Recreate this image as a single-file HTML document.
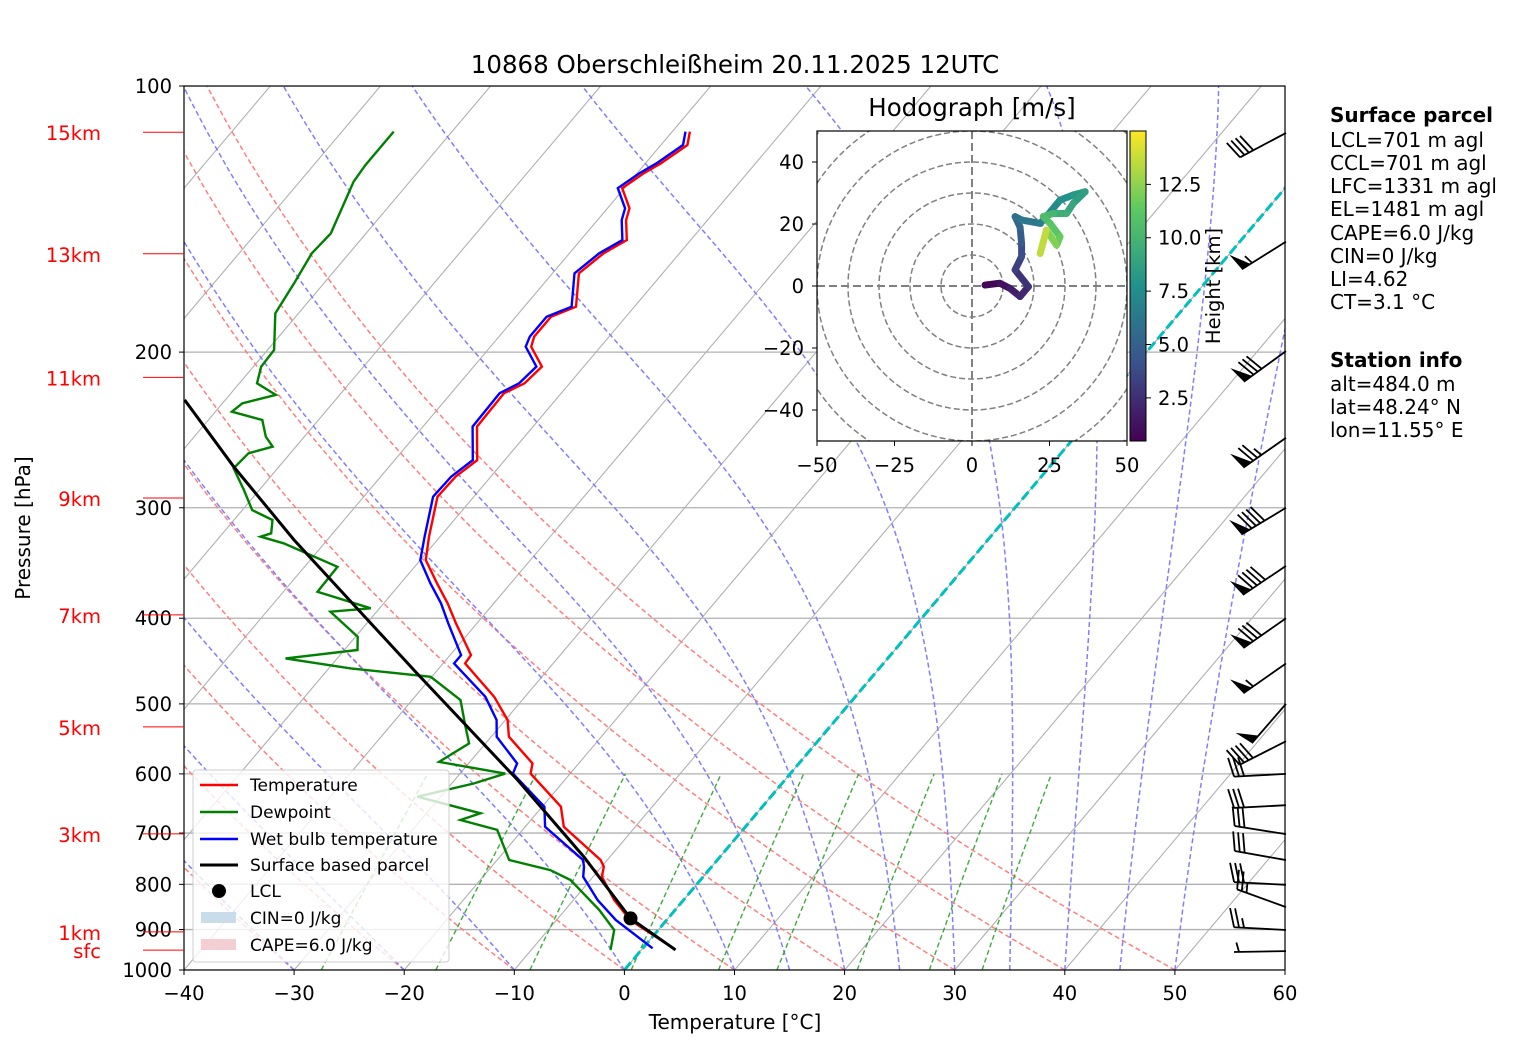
<!DOCTYPE html>
<html><head><meta charset="utf-8"><style>
body{margin:0;background:#fff;}
svg{display:block;font-family:"DejaVu Sans","Liberation Sans",sans-serif;}
</style></head><body>
<svg id="chart" width="1517" height="1056" viewBox="0 0 1517 1056" xmlns="http://www.w3.org/2000/svg">
<defs>
<clipPath id="plotclip"><rect x="184" y="86" width="1101" height="884"/></clipPath>
<clipPath id="hodoclip"><rect x="817" y="131" width="310" height="310"/></clipPath>
<linearGradient id="viridis" x1="0" y1="1" x2="0" y2="0">
<stop offset="0" stop-color="#440154"/><stop offset="0.25" stop-color="#3b528b"/><stop offset="0.5" stop-color="#21918c"/><stop offset="0.75" stop-color="#5ec962"/><stop offset="1" stop-color="#fde725"/>
</linearGradient>
</defs>
<rect x="0" y="0" width="1517" height="1056" fill="#fff"/>
<g id="grid" clip-path="url(#plotclip)"></g>
<g id="series" clip-path="url(#plotclip)"></g>
<g id="axes"></g>
<text x="735" y="73" font-size="24.5" text-anchor="middle">10868 Oberschleißheim 20.11.2025 12UTC</text>
<text x="735" y="1029" font-size="20" text-anchor="middle">Temperature [°C]</text>
<text x="30" y="528" font-size="20" text-anchor="middle" transform="rotate(-90 30 528)">Pressure [hPa]</text>
<g id="legend">
<rect x="193" y="770" width="256" height="192" rx="3" fill="#fff" fill-opacity="0.8" stroke="#ccc"/>
<line x1="200" y1="785" x2="238" y2="785" stroke="red" stroke-width="2.5"/>
<text x="250" y="791" font-size="17">Temperature</text>
<line x1="200" y1="812" x2="238" y2="812" stroke="green" stroke-width="2.5"/>
<text x="250" y="818" font-size="17">Dewpoint</text>
<line x1="200" y1="839" x2="238" y2="839" stroke="blue" stroke-width="2.5"/>
<text x="250" y="845" font-size="17">Wet bulb temperature</text>
<line x1="200" y1="865" x2="238" y2="865" stroke="black" stroke-width="3"/>
<text x="250" y="871" font-size="17">Surface based parcel</text>
<circle cx="219" cy="891" r="7" fill="#000"/>
<text x="250" y="897" font-size="17">LCL</text>
<rect x="201" y="912" width="35" height="11" fill="#c9dcea"/>
<text x="250" y="924" font-size="17">CIN=0 J/kg</text>
<rect x="201" y="939" width="35" height="11" fill="#f3cfd3"/>
<text x="250" y="951" font-size="17">CAPE=6.0 J/kg</text>
</g>
<g id="hodo">
<rect x="817" y="131" width="310" height="310" fill="#fff"/>
<text x="972" y="116" font-size="24.5" text-anchor="middle">Hodograph [m/s]</text>
</g>
<g id="barbs"></g>
<g font-size="20">
<text x="1330" y="122" font-weight="bold">Surface parcel</text>
<text x="1330" y="147">LCL=701 m agl</text>
<text x="1330" y="170">CCL=701 m agl</text>
<text x="1330" y="193">LFC=1331 m agl</text>
<text x="1330" y="216">EL=1481 m agl</text>
<text x="1330" y="240">CAPE=6.0 J/kg</text>
<text x="1330" y="263">CIN=0 J/kg</text>
<text x="1330" y="286">LI=4.62</text>
<text x="1330" y="309">CT=3.1 °C</text>
<text x="1330" y="367" font-weight="bold">Station info</text>
<text x="1330" y="391">alt=484.0 m</text>
<text x="1330" y="414">lat=48.24° N</text>
<text x="1330" y="437">lon=11.55° E</text>
</g>
</svg>
<script>
// ---- data ----
const tempP = [112.6,116.6,122.3,125.6,130.5,137.5,141.8,149.4,154.6,162.9,177.7,182.4,192.1,197.2,207.7,216.9,222.6,242.8,265,276.7,291.5,323.5,343.8,365.2,384.8,405.4,440.3,450,490.8,521.4,544.6,583.9,599.5,653.6,688.6,750.9,764.1,784.4,833.4,878.1,945.1];
const tempT = [-58.4,-57.6,-58.6,-59.4,-60.2,-58.0,-57.4,-55.8,-56.9,-57.6,-55.3,-56.8,-56.8,-56.3,-53.8,-54.1,-55.2,-55.1,-52.5,-53.2,-53.3,-51.0,-49.5,-46.7,-44.2,-41.9,-38.1,-38.0,-32.8,-29.8,-28.4,-24.2,-23.6,-18.3,-16.5,-10.6,-9.8,-9.2,-6.3,-3.3,2.8];
const wetT = [-58.8,-58.0,-59.0,-59.8,-60.6,-58.4,-57.8,-56.2,-57.3,-58.0,-55.7,-57.2,-57.2,-56.8,-54.3,-54.6,-55.6,-55.5,-52.9,-53.6,-53.7,-51.4,-50.0,-47.3,-44.8,-42.6,-39.0,-39.0,-33.6,-30.8,-29.5,-25.6,-25.2,-19.8,-18.2,-12.2,-11.6,-10.9,-7.8,-4.6,0.9];
const dewP = [112.6,122.9,128.3,146.8,154.6,167.2,180.8,198.9,207.7,216.9,223.6,228.5,233.6,238.7,249.3,255.9,260.3,270.7,286.4,301.8,309.7,320.6,323.5,329.1,349.9,373.4,389.8,393.3,419.8,434.5,444.1,455.8,465.9,495.1,530.7,554.2,581.5,599.5,615.2,636.8,664.8,676.5,694.3,750.9,770.8,791.1,855.1,901,949.3];
const dewT = [-85.3,-85.3,-85.1,-83.2,-83.4,-82.7,-82.1,-79.4,-79.3,-78.4,-75.8,-78.2,-78.5,-75.1,-73.5,-72.1,-73.8,-74.0,-71.4,-69.1,-66.5,-65.6,-66.3,-63.7,-57.0,-56.9,-50.8,-54.2,-49.8,-48.8,-54.7,-48.0,-40.1,-35.6,-33.1,-31.5,-32.8,-25.9,-28.0,-32.1,-25.1,-26.4,-22.3,-18.9,-14.4,-11.8,-6.9,-4.0,-2.8];
const parcelP = [949,874.3,744.3,609.5,461.8,326.3,269.6,226.5];
const parcelT = [3.1,-3.4,-12.4,-24.3,-41.6,-63.0,-74.1,-83.7];
const lclP = [874.3];
const lclT = [-3.4];
const barbP = [113,150,199.5,250,300,349,400,450,500,551,600,651,702,751,801,849,901,952];
const barbSpd = [40,55,80,75,90,90,80,55,50,40,30,30,30,30,30,25,25,5];
const barbDir = [242,238,234,235,239,236,235,235,221,243,267,267,279,280,273,290,273,269];
const hodoU = [4.2,9,12.3,15.5,18.2,13.9,16,16,15.5,13.9,16,22,24,28.4,32.7,36.5,32.7,30.5,26.2,23,25.2,28.4,27.3,24,22];
const hodoV = [0.3,0.9,-0.8,-3.4,-0.2,5.2,9.5,13.8,19,22.4,21.3,20.2,22.4,27.7,29.4,30.4,26.7,23.4,23.4,22.4,20.2,15.9,13.2,18,10.5];
const hodoH = [0.5,1.0,1.5,2.0,2.4,3.0,3.6,4.3,5.0,5.6,6.0,6.5,7.0,7.6,8.0,8.4,8.8,9.3,9.8,10.3,10.8,11.3,11.8,12.6,14.6];
const pTicks = [100,200,300,400,500,600,700,800,900,1000];
const tTicks = [-40,-30,-20,-10,0,10,20,30,40,50,60];
const kmLabels = ["15km","13km","11km","9km","7km","5km","3km","1km","sfc"];
const kmP = [112.8,154.8,213.6,292.5,396.5,530.8,701.5,905.5,949.5];
const hodoTicks = [-50,-25,0,25,50];
const hodoYTicks = [-40,-20,0,20,40];
const cbTicks = [2.5,5.0,7.5,10.0,12.5];

// ---- scales ----
const NS="http://www.w3.org/2000/svg";
const X0=184,X1=1285,Y0=86,Y1=970,PXC=11.01,SK=0.845;
function yP(p){return Y1-884*Math.log10(1000/p);}
function xT(T,p){return X0+(T+40)*PXC+SK*(Y1-yP(p));}
function mk(tag,attrs,parent){const e=document.createElementNS(NS,tag);for(const k in attrs)e.setAttribute(k,attrs[k]);parent.appendChild(e);return e;}
function pathFrom(ps,ts){return ps.map((p,i)=>(i?'L':'M')+xT(ts[i],p).toFixed(1)+','+yP(p).toFixed(1)).join('');}
const grid=document.getElementById('grid'),series=document.getElementById('series'),axes=document.getElementById('axes');

pTicks.forEach(p=>{const l=mk('line',{x1:X0,x2:X1,y1:yP(p),y2:yP(p),stroke:'#b0b0b0','stroke-width':1.3},grid);

});
for(let T=-150;T<=60;T+=10){const l=mk('line',{x1:xT(T,1000),y1:Y1,x2:xT(T,100),y2:Y0,stroke:'#b0b0b0','stroke-width':1.1},grid);

}
for(let th=-30;th<=50;th+=10){let d='';for(let p=1000;p>=100;p-=10){const T=(th+273.15)*Math.pow(p/1000,0.2857)-273.15;d+=(p==1000?'M':'L')+xT(T,p).toFixed(1)+','+yP(p).toFixed(1);}
const e=mk('path',{d:d,fill:'none',stroke:'#ff7f7f','stroke-width':1.5,'stroke-dasharray':'5,3'},grid);

}
function es(T){return 6.112*Math.exp(17.67*T/(T+243.5));}
[-30,-20,-10,0,10,15,20,25,30,35,40,45,50].forEach(t0=>{let T=t0+273.15,d='';for(let p=1000;p>=100;p-=2){d+=(p==1000?'M':'L')+xT(T-273.15,p).toFixed(1)+','+yP(p).toFixed(1);
const e_=es(T-273.15),rs=0.622*e_/(p-e_);const dTdp=(287.04*T+2.501e6*rs)/(p*(1005.7+2.501e6*2.501e6*rs*0.622/(287.04*T*T)));T-=dTdp*2;}
const e=mk('path',{d:d,fill:'none',stroke:'#7f7fff','stroke-width':1.5,'stroke-dasharray':'5,3'},grid);

});
[0.4,1,2,4,7,10,16,24,32].forEach(w=>{let d='';for(let p=1000;p>=600;p-=20){const e_=w/1000*p/(0.622+w/1000);const l=Math.log(e_/6.112);const Td=243.5*l/(17.67-l);d+=(p==1000?'M':'L')+xT(Td,p).toFixed(1)+','+yP(p).toFixed(1);}
const e=mk('path',{d:d,fill:'none',stroke:'#2ca02c','stroke-width':1.4,'stroke-dasharray':'5,3','stroke-opacity':0.9},grid);

});
const iso0=mk('line',{x1:xT(0,1000),y1:Y1,x2:xT(0,100),y2:Y0,stroke:'#00bfbf','stroke-width':3,'stroke-dasharray':'10,4'},grid);



const sT=mk('path',{d:pathFrom(tempP,tempT),fill:'none',stroke:'red','stroke-width':2.4},series);


const sW=mk('path',{d:pathFrom(tempP,wetT),fill:'none',stroke:'blue','stroke-width':2.4},series);


const sD=mk('path',{d:pathFrom(dewP,dewT),fill:'none',stroke:'green','stroke-width':2.4},series);


const sP=mk('path',{d:pathFrom(parcelP,parcelT),fill:'none',stroke:'black','stroke-width':3},series);


const lcl=mk('circle',{cx:xT(lclT[0],lclP[0]),cy:yP(lclP[0]),r:7,fill:'#000'},series);



const fr=mk('rect',{x:X0,y:Y0,width:X1-X0,height:Y1-Y0,fill:'none',stroke:'#000','stroke-width':1.2},axes);


pTicks.forEach(p=>{const y=yP(p);mk('line',{x1:X0-5,x2:X0,y1:y,y2:y,stroke:'#000'},axes);
const t=mk('text',{x:X0-12,y:y+7,'font-size':19.5,'text-anchor':'end'},axes);t.textContent=p;

});
tTicks.forEach(T=>{const x=X0+(T+40)*PXC;mk('line',{x1:x,x2:x,y1:Y1,y2:Y1+5,stroke:'#000'},axes);
const t=mk('text',{x:x,y:Y1+30,'font-size':19.5,'text-anchor':'middle'},axes);t.textContent=String(T).replace('-','−');

});
kmLabels.forEach((s,i)=>{const y=yP(kmP[i]);mk('line',{x1:143,x2:X0,y1:y,y2:y,stroke:'red','stroke-width':1},axes);
const t=mk('text',{x:101,y:y+8,'font-size':19.5,'text-anchor':'end',fill:'red'},axes);t.textContent=s;

});

const barbs=document.getElementById('barbs');
barbP.forEach((p,i)=>{const bx=1286,by=yP(p);const a=barbDir[i]*Math.PI/180;
let dx=Math.sin(a),dy=-Math.cos(a);const L=52;const tx=bx+dx*L,ty=by+dy*L;const nx=-dy,ny=dx;
const g=mk('g',{},barbs);


mk('line',{x1:bx,y1:by,x2:tx,y2:ty,stroke:'#000','stroke-width':1.8},g);
let s=Math.round(barbSpd[i]/5)*5,pos=0;
while(s>=50){const ax=tx-dx*pos,ay=ty-dy*pos;mk('polygon',{points:`${ax},${ay} ${ax-dx*10},${ay-dy*10} ${ax+nx*19+dx*3},${ay+ny*19+dy*3}`,fill:'#000'},g);pos+=12;s-=50;}
while(s>=10){const ax=tx-dx*pos,ay=ty-dy*pos;mk('line',{x1:ax,y1:ay,x2:ax+nx*19+dx*5,y2:ay+ny*19+dy*5,stroke:'#000','stroke-width':1.8},g);pos+=5;s-=10;}
if(s>=5){if(pos==0)pos=5;const ax=tx-dx*pos,ay=ty-dy*pos;mk('line',{x1:ax,y1:ay,x2:ax+nx*9.5+dx*2.5,y2:ay+ny*9.5+dy*2.5,stroke:'#000','stroke-width':1.8},g);}
});

const hodo=document.getElementById('hodo');
function hx(u){return 972+u*3.1;} function hy(v){return 286-v*3.1;}
const hc=mk('g',{'clip-path':'url(#hodoclip)'},hodo);
for(let r=10;r<=70;r+=10){const c=mk('circle',{cx:hx(0),cy:hy(0),r:r*3.1,fill:'none',stroke:'#808080','stroke-width':1.5,'stroke-dasharray':'6,3'},hc);

}
mk('line',{x1:817,x2:1127,y1:hy(0),y2:hy(0),stroke:'#808080','stroke-width':2,'stroke-dasharray':'8,4'},hc);
mk('line',{x1:hx(0),x2:hx(0),y1:131,y2:441,stroke:'#808080','stroke-width':2,'stroke-dasharray':'8,4'},hc);
function viridis(t){const st=[[68,1,84],[59,82,139],[33,145,140],[94,201,98],[253,231,37]];t=Math.max(0,Math.min(1,t))*4;const i=Math.min(3,Math.floor(t)),f=t-i;const c=st[i].map((v,k)=>Math.round(v+(st[i+1][k]-v)*f));return `rgb(${c})`;}
for(let i=0;i<hodoU.length-1;i++){const col=viridis(((hodoH[i]+hodoH[i+1])/2-0.48)/14.52);
const seg=mk('line',{x1:hx(hodoU[i]),y1:hy(hodoV[i]),x2:hx(hodoU[i+1]),y2:hy(hodoV[i+1]),stroke:col,'stroke-width':7,'stroke-linecap':'round','stroke-dasharray':'2,1'},hc);

}
const hf=mk('rect',{x:817,y:131,width:310,height:310,fill:'none',stroke:'#000','stroke-width':1.2},hodo);


hodoTicks.forEach(u=>{mk('line',{x1:hx(u),x2:hx(u),y1:441,y2:446,stroke:'#000'},hodo);const t=mk('text',{x:hx(u),y:472,'font-size':19.5,'text-anchor':'middle'},hodo);t.textContent=String(u).replace('-','−');

});
hodoYTicks.forEach(v=>{mk('line',{x1:812,x2:817,y1:hy(v),y2:hy(v),stroke:'#000'},hodo);const t=mk('text',{x:804,y:hy(v)+7,'font-size':19.5,'text-anchor':'end'},hodo);t.textContent=String(v).replace('-','−');

});
const cb=mk('rect',{x:1130,y:131,width:16,height:310,fill:'url(#viridis)',stroke:'#000','stroke-width':1},hodo);


cbTicks.forEach(h=>{const y=441-(h-0.48)/14.52*310;mk('line',{x1:1146,x2:1151,y1:y,y2:y,stroke:'#000'},hodo);const t=mk('text',{x:1158,y:y+7,'font-size':19.5},hodo);t.textContent=h.toFixed(1);

});
const cbl=mk('text',{x:1220,y:286,'font-size':19.5,'text-anchor':'middle',transform:'rotate(-90 1220 286)'},hodo);cbl.textContent='Height [km]';


</script>
</body></html>
